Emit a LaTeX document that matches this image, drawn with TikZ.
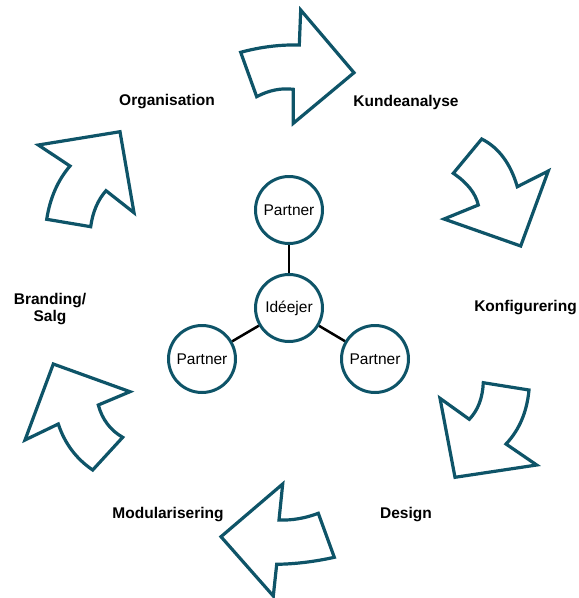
\documentclass[tikz,border=0pt]{standalone}
\usepackage{fontspec}
\setmainfont{Liberation Sans}
\definecolor{teal}{RGB}{14,84,104}
\begin{document}
\begin{tikzpicture}[x=1pt,y=-1pt,
  cyc/.style={draw=teal,line width=3.2pt,line join=miter,fill=white},
  circ/.style={circle,draw=teal,line width=3pt,fill=white,minimum size=67pt,inner sep=0pt,font=\fontsize{15.5}{18}\selectfont},
  lab/.style={font=\fontsize{15.5}{17.5}\selectfont\bfseries,align=center,inner sep=0pt},
  link/.style={draw=black,line width=2.5pt}]
\useasboundingbox (0,0) rectangle (579,598);
% arrows
\draw[cyc] (240.7,52.3) .. controls (260.2,47.0) and (279.8,44.5) .. (299.3,45) -- (300.7,10) -- (354,72.7) -- (293.3,123.3) -- (293.3,89.3) .. controls (281.1,87.8) and (268.9,90.2) .. (256.7,96.7) -- cycle;
\draw[cyc] (481.7,139) .. controls (498.6,147.5) and (510.5,163.4) .. (517.3,186.7) -- (548.3,171) -- (520.7,246) -- (444,219) -- (478.3,205) .. controls (475.6,193.3) and (467.2,182.7) .. (453.3,173.3) -- cycle;
\draw[cyc] (483.3,382.7) -- (529,390) .. controls (526.9,412) and (519.3,430) .. (506,444) -- (536.7,465) -- (455,477.3) -- (440,398.3) -- (469.3,419.3) .. controls (478.0,410.2) and (482.6,398.0) .. cycle;
\draw[cyc] (282.7,484) -- (279,520) .. controls (292.1,520.5) and (305.2,518.2) .. (318.3,513.3) -- (334.3,557.3) .. controls (314.9,561.6) and (295.7,564.0) .. (276.7,564.3) -- (273.3,596) -- (221,536.7) -- cycle;
\draw[cyc] (53.3,364) -- (130,391.7) -- (98.3,405) .. controls (102.2,419.5) and (110.4,430.3) .. (122.7,437.3) -- (92.7,470) .. controls (76.1,458.7) and (64.6,443.3) .. (58.3,424) -- (25,440) -- cycle;
\draw[cyc] (120,131.7) -- (38.3,145) -- (70,166) .. controls (57.8,180.2) and (50.0,198.0) .. (46.7,219.3) -- (90.7,226.7) .. controls (92.7,212.0) and (97.8,200.0) .. (106,190.7) -- (134,212.7) -- cycle;
% labels
\node[lab] (org) at (167,102) {Organisation};
\node[lab] (kun) at (406,102) {Kundeanalyse};
\node[lab] (kon) at (525.5,307.5) {Konfigurering};
\node[lab] (des) at (406,515) {Design};
\node[lab] (mod) at (168,515) {Modularisering};
\node[lab] (bra) at (50,309) {Branding/\\Salg};
% hub
\node[circ] (pt) at (289,210) {Partner};
\node[circ] (id) at (289,308) {Idéejer};
\node[circ] (pl) at (202,359) {Partner};
\node[circ] (pr) at (375,359) {Partner};
\draw[link] (pt) -- (id);
\draw[link] (id) -- (pl);
\draw[link] (id) -- (pr);
\end{tikzpicture}
\end{document}
